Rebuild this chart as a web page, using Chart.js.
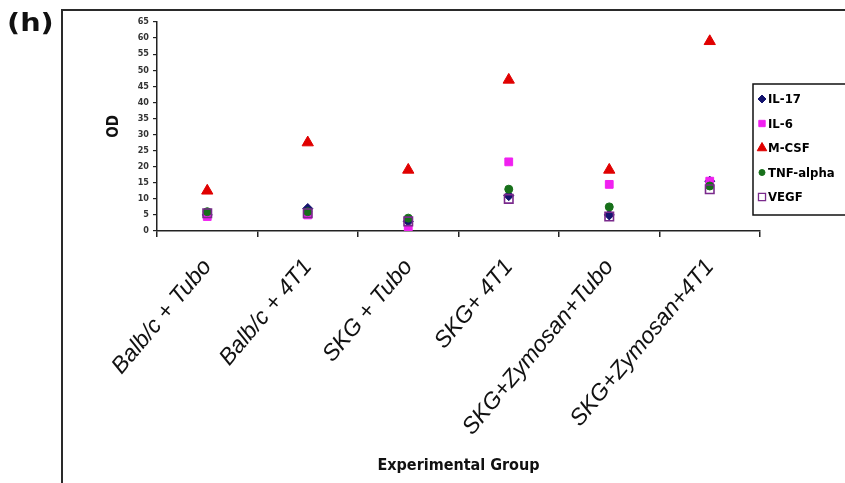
<!DOCTYPE html>
<html>
<head>
<meta charset="utf-8">
<script src="https://cdn.jsdelivr.net/npm/chart.js@4.4.1/dist/chart.umd.min.js"></script>
<style>
  html, body { margin: 0; padding: 0; background: #fff; }
  #chart { display: block; }
</style>
</head>
<body>
<canvas id="chart" width="845" height="483"></canvas>
<script>
// data
const groups = ['Balb/c + Tubo', 'Balb/c + 4T1', 'SKG + Tubo', 'SKG+ 4T1', 'SKG+Zymosan+Tubo', 'SKG+Zymosan+4T1'];
const il17 = [5, 7, 3, 11, 5, 15.5];
const il6 = [4.5, 5, 0.5, 21.5, 14.5, 15.5];
const mcsf = [12.5, 27.5, 19, 47, 19, 59];
const tnf = [6, 6, 4, 13, 7.5, 14];
const vegf = [5.5, 5.5, 3, 10, 4.5, 13];
const seriesNames = ['IL-17', 'IL-6', 'M-CSF', 'TNF-alpha', 'VEGF'];

const narrow = "'Liberation Sans Narrow', 'DejaVu Sans Condensed', 'Liberation Sans', sans-serif";

// marker look per series (legend uses smaller copies)
const styles = [
  { pointStyle: 'rectRot',  radius: 5,   bg: '#14146e', border: '#14146e', lr: 4 },
  { pointStyle: 'rect',     radius: 5.5, bg: '#f020f0', border: '#f020f0', lr: 4.5 },
  { pointStyle: 'triangle', radius: 6.5, bg: '#e00000', border: '#e00000', lr: 5.5 },
  { pointStyle: 'circle',   radius: 4,   bg: '#17701a', border: '#17701a', lr: 3 },
  { pointStyle: 'rect',     radius: 6,   bg: 'rgba(0,0,0,0)', border: '#7a2a8c', lr: 5 }
];
const values = [il17, il6, mcsf, tnf, vegf];

const datasets = seriesNames.map((name, i) => ({
  label: name,
  data: values[i],
  showLine: false,
  pointStyle: styles[i].pointStyle,
  pointRadius: styles[i].radius,
  pointHoverRadius: styles[i].radius,
  backgroundColor: styles[i].bg,
  borderColor: styles[i].border,
  pointBorderWidth: i === 4 ? 1.6 : 1,
  order: 5 - i
}));

// frame, panel letter and legend box
const decor = {
  id: 'decor',
  beforeDraw(chart) {
    const ctx = chart.ctx;
    ctx.save();
    ctx.fillStyle = '#fff';
    ctx.fillRect(0, 0, chart.width, chart.height);
    ctx.strokeStyle = '#2a2a2a';
    ctx.lineWidth = 2;
    ctx.beginPath();
    ctx.moveTo(62, 483);
    ctx.lineTo(62, 10);
    ctx.lineTo(850, 10);
    ctx.stroke();
    // (h)
    ctx.fillStyle = '#111';
    ctx.font = "bold 25px 'DejaVu Sans', sans-serif";
    ctx.textBaseline = 'alphabetic';
    ctx.translate(7, 31);
    ctx.scale(1.15, 1);
    ctx.fillText('(h)', 0, 0);
    ctx.restore();
  },
  afterDraw(chart) {
    const ctx = chart.ctx;
    ctx.save();
    ctx.strokeStyle = '#111';
    ctx.lineWidth = 1.5;
    ctx.strokeRect(753, 84, 110, 131);
    ctx.font = 'bold 13px ' + narrow;
    ctx.textBaseline = 'middle';
    ctx.fillStyle = '#000';
    chart.data.datasets.forEach((ds, i) => {
      const y = 99 + i * 24.5;
      ctx.fillStyle = ds.backgroundColor;
      ctx.strokeStyle = ds.borderColor;
      ctx.lineWidth = i === 4 ? 1.3 : 1;
      Chart.helpers.drawPoint(ctx, { pointStyle: ds.pointStyle, radius: styles[i].lr, borderWidth: ctx.lineWidth }, 762, y);
      ctx.fillStyle = '#000';
      ctx.fillText(ds.label, 768, y + 1);
    });
    ctx.restore();
  }
};

const config = {
  type: 'line',
  data: { labels: groups, datasets: datasets },
  options: {
    responsive: false,
    animation: false,
    layout: { padding: { left: 90, right: 85, top: 22, bottom: 0 } },
    plugins: { legend: { display: false }, tooltip: { enabled: false } },
    scales: {
      x: {
        type: 'category',
        offset: true,
        afterFit: (s) => { s.height = 252; },
        border: { display: true, color: '#222', width: 1.5 },
        grid: { offset: true, drawOnChartArea: false, drawTicks: true, tickLength: 6, color: '#222', lineWidth: 1.5 },
        ticks: {
          autoSkip: false,
          minRotation: 50,
          maxRotation: 50,
          padding: 17,
          color: '#111',
          font: { family: "'Liberation Sans', Arial, sans-serif", size: 23, style: 'italic' }
        },
        title: {
          display: true,
          text: 'Experimental Group',
          color: '#111',
          padding: { top: 0, bottom: 8 },
          font: { family: narrow, size: 16, weight: 'bold' }
        }
      },
      y: {
        min: 0,
        max: 65,
        afterFit: (s) => { s.width = 67; },
        border: { display: true, color: '#222', width: 1.5 },
        grid: { drawOnChartArea: false, drawTicks: true, tickLength: 4, color: '#222', lineWidth: 1.2 },
        ticks: {
          stepSize: 5,
          padding: 4,
          color: '#333',
          font: { family: narrow, size: 9, weight: 'bold' }
        },
        title: {
          display: true,
          text: 'OD',
          color: '#111',
          padding: { top: 15, bottom: 0 },
          font: { family: narrow, size: 15, weight: 'bold' }
        }
      }
    }
  },
  plugins: [decor]
};

var chart = new Chart(document.getElementById('chart'), config);
</script>
</body>
</html>
